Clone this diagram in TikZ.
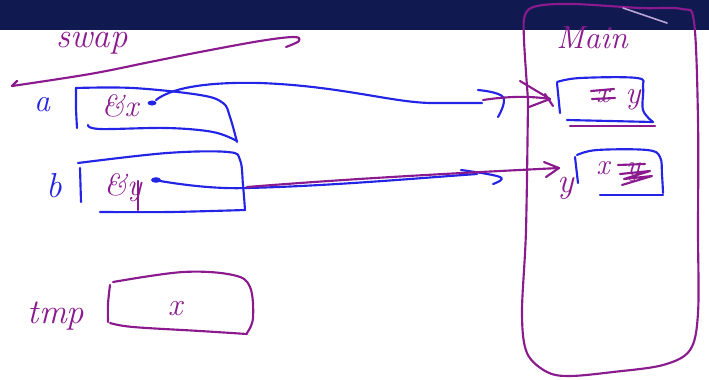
\documentclass[tikz,border=0pt]{standalone}
\definecolor{barnavy}{HTML}{111A50}
\definecolor{inkpurple}{HTML}{8A1A8E}
\definecolor{inkblue}{HTML}{2424E6}
\definecolor{inkfaint}{HTML}{B9A6D6}
\tikzset{
  ink/.style={line width=1.6pt, line cap=round, line join=round},
  pink/.style={ink, draw=inkpurple},
  bink/.style={ink, draw=inkblue},
  hand/.style={inner sep=0pt, font=\fontsize{#1}{#1}\selectfont\itshape},
  hand/.default=22,
  plabel/.style={hand=#1, text=inkpurple},
  plabel/.default=22,
  blabel/.style={hand=#1, text=inkblue},
  blabel/.default=22,
}
\begin{document}
\begin{tikzpicture}[x=0.75pt,y=-0.75pt]
\useasboundingbox (0,0) rectangle (709,379);
% title bar
\fill[barnavy] (0,0) rectangle (709,30);

% ---------- swap frame ----------
\node[plabel=26] (swaplbl) at (92,43) {swap};
\draw[pink] plot[smooth,tension=0.6] coordinates
  {(286,47) (299,41) (294,37) (260,41) (200,52) (150,62) (90,74) (12,86)};
\draw[pink] (17,81) -- (12,86);

% variable a
\node[blabel=24] (alab) at (42,105) {a};
\draw[bink] plot[smooth,tension=0.5] coordinates {(76,88) (76,108) (77,128)};
\draw[bink] plot[smooth,tension=0.6] coordinates
  {(76,88) (133,88) (200,95) (223,103) (230,117) (237,142)};
\draw[bink] plot[smooth,tension=0.6] coordinates
  {(88,125) (100,129) (167,128) (213,132) (237,141)};
\node[plabel=23] (ax) at (120,106) {\&x};
\fill[inkblue] (152,103) ellipse (4.5 and 2.5);
\coordinate (astart) at (156,100);

% variable b
\node[blabel=26] (blab) at (54,186) {b};
\draw[bink] (80,168) -- (81,202);
\draw[bink] plot[smooth,tension=0.6] coordinates
  {(78,163) (167,153) (228,152) (240,160) (243,185) (245,210)};
\draw[bink] plot[smooth,tension=0.5] coordinates {(100,212) (170,212) (245,210)};
\node[plabel=23] (by) at (123,188) {\&y};
\draw[pink] (138,181) -- (138,210);
\fill[inkblue] (156,180) ellipse (5 and 2.8);
\coordinate (bstart) at (160,181);

% variable tmp
\node[plabel=26] (tmplab) at (56,316) {tmp};
\draw[pink] plot[smooth,tension=0.5] coordinates {(110,285) (108,304) (108,322)};
\draw[pink] plot[smooth,tension=0.6] coordinates
  {(113,282) (183,272) (233,275) (250,287) (253,318) (247,333)};
\draw[pink] plot[smooth,tension=0.6] coordinates
  {(110,323) (133,327) (200,331) (247,334)};
\node[plabel=24] (tmpx) at (175,309) {x};

% ---------- main frame ----------
\draw[pink] plot[smooth,tension=0.55] coordinates
  {(528,100) (524,40) (525,15) (537,6) (573,4) (640,8) (682,9) (694,22)
   (698,120) (698,230) (698,313) (690,350) (663,365) (613,372) (570,376)
   (547,372) (527,353) (522,313) (526,230) (528,100)};
\draw[ink, draw=inkfaint, line width=1.2pt] (623,8) -- (667,23);
\node[plabel=24] (mainlbl) at (592,38) {Main};

% main: x (first box)
\draw[bink] (557,83) -- (560,113);
\draw[bink] plot[smooth,tension=0.6] coordinates
  {(557,82) (580,78) (637,78) (643,87) (643,110) (653,122)};
\draw[bink] (567,120) -- (653,122);
\draw[pink] (570,126) -- (655,126);
\node[plabel=22] (mxold) at (603,96) {x};
\draw[pink] (591,91) -- (614,89);
\draw[pink] (592,99) -- (615,98);
\node[plabel=24] (mxnew) at (633,100) {y};
\coordinate (mx) at (550,99);

% main: y (second box)
\draw[bink] (575,157) -- (578,183);
\draw[bink] plot[smooth,tension=0.6] coordinates
  {(577,155) (597,150) (647,150) (660,157) (662,175) (663,193)};
\draw[bink] (600,195) -- (663,195);
\node[plabel=22] (myold) at (603,168) {x};
\node[plabel=22] (mynew) at (633,172) {y};
\draw[pink] (618,165) -- (645,164);
\draw[pink] (620,174) -- (650,171) -- (624,179) -- (652,176) -- (622,185);
\node[plabel=26] (ylab) at (566,188) {y};
\coordinate (my) at (559,168);

% ---------- pointers ----------
% &x -> x
\draw[bink] (astart) .. controls (175,85) and (220,82) .. (260,83)
  .. controls (340,86) and (390,102) .. (430,103) -- (482,103);
\draw[bink] plot[smooth,tension=0.7] coordinates {(478,90) (503,97) (498,117)};
\draw[pink] (483,100) .. controls (510,96) and (530,96) .. (mx);
\draw[pink] (520,81) -- (mx) -- (529,107);
\draw[pink] (545,94) -- (553,106);

% &y -> y
\draw[bink] (bstart) .. controls (190,186) and (220,189) .. (247,188)
  .. controls (330,186) and (420,178) .. (477,174);
\draw[bink] plot[smooth,tension=0.7] coordinates {(461,170) (500,177) (493,184)};
\draw[pink] (247,187) .. controls (360,178) and (460,173) .. (my);
\draw[pink] (544,162) -- (my) -- (546,177);
\end{tikzpicture}
\end{document}
